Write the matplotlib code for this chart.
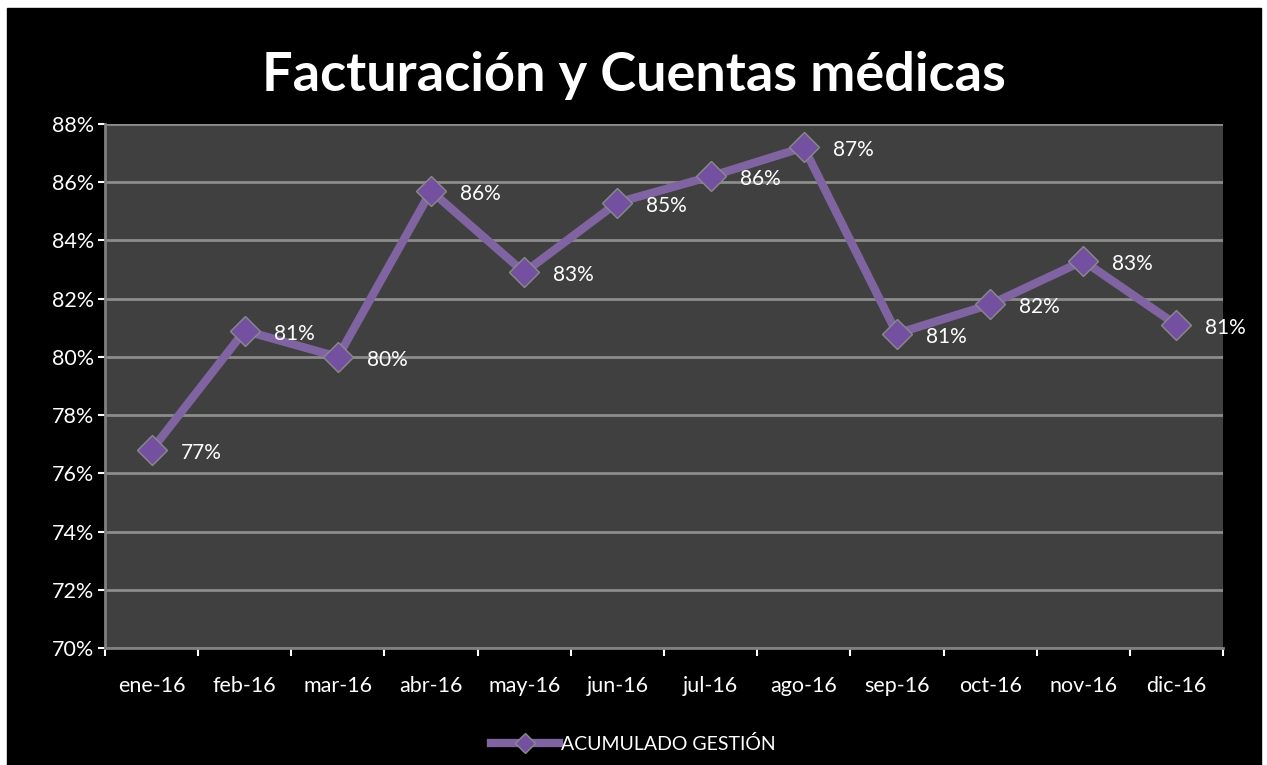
import matplotlib.pyplot as plt

plt.rcParams['font.family'] = ['Lato', 'DejaVu Sans']

# datos
meses = ["ene-16", "feb-16", "mar-16", "abr-16", "may-16", "jun-16",
         "jul-16", "ago-16", "sep-16", "oct-16", "nov-16", "dic-16"]
acumulado = [76.8, 80.9, 80.0, 85.7, 82.9, 85.3, 86.2, 87.2, 80.8, 81.8, 83.3, 81.1]
etiquetas = ["77%", "81%", "80%", "86%", "83%", "85%", "86%", "87%", "81%", "82%", "83%", "81%"]
yticks = [70, 72, 74, 76, 78, 80, 82, 84, 86, 88]

fig = plt.figure(figsize=(12.67, 7.65), dpi=100)
fig.patch.set_facecolor('white')
# marco negro
fig.add_artist(plt.Rectangle((7 / 1267, 0), (1261 - 7) / 1267, 1 - 8 / 765,
                             transform=fig.transFigure, color='black', zorder=0))

ax = fig.add_axes([105 / 1267, 1 - 648 / 765, (1223 - 105) / 1267, (648 - 124) / 765])
ax.set_facecolor('#404040')

x = list(range(len(meses)))
ax.plot(x, acumulado, color='#8064A2', lw=6, marker='D', markersize=15,
        markerfacecolor='#7451A0', markeredgecolor='#8A8A8A', markeredgewidth=1,
        label="ACUMULADO GESTIÓN", zorder=3)

for xi, yi, t in zip(x, acumulado, etiquetas):
    ax.annotate(t, (xi, yi), xytext=(29, -3), textcoords='offset pixels',
                ha='left', va='center', color='white', fontsize=15, zorder=4)

ax.set_xlim(-0.5, len(meses) - 0.5)
ax.set_ylim(70, 88)
ax.set_yticks(yticks)
ax.set_yticklabels([f"{v}%" for v in yticks])
ax.set_xticks([i - 0.5 for i in range(len(meses) + 1)])
ax.set_xticklabels([])
ax.set_xticks(x, minor=True)
ax.set_xticklabels(meses, minor=True)
ax.tick_params(axis='x', which='minor', length=0, pad=20)
ax.tick_params(axis='x', which='major', length=6, width=1.5, color='#808080')
ax.tick_params(axis='y', length=5, width=1.5, color='#808080', pad=3)
ax.tick_params(colors='white', labelsize=15.5, which='both')
ax.yaxis.grid(True, color='#8C8C8C', lw=2)
ax.set_axisbelow(True)
for s in ['top', 'right']:
    ax.spines[s].set_visible(False)
for s in ['left', 'bottom']:
    ax.spines[s].set_color('#808080')
    ax.spines[s].set_linewidth(2)

fig.text(0.5, 1 - 75 / 765, "Facturación y Cuentas médicas", ha='center', va='center',
         color='white', fontsize=39, fontweight='bold')

leg = fig.legend(loc='center', bbox_to_anchor=(0.5, 1 - 744 / 765), frameon=False,
                 fontsize=14, handlelength=3.5, handletextpad=0.1, markerscale=0.7)
for t in leg.get_texts():
    t.set_color('white')

fig.savefig("out.png", dpi=100, facecolor=fig.get_facecolor())
